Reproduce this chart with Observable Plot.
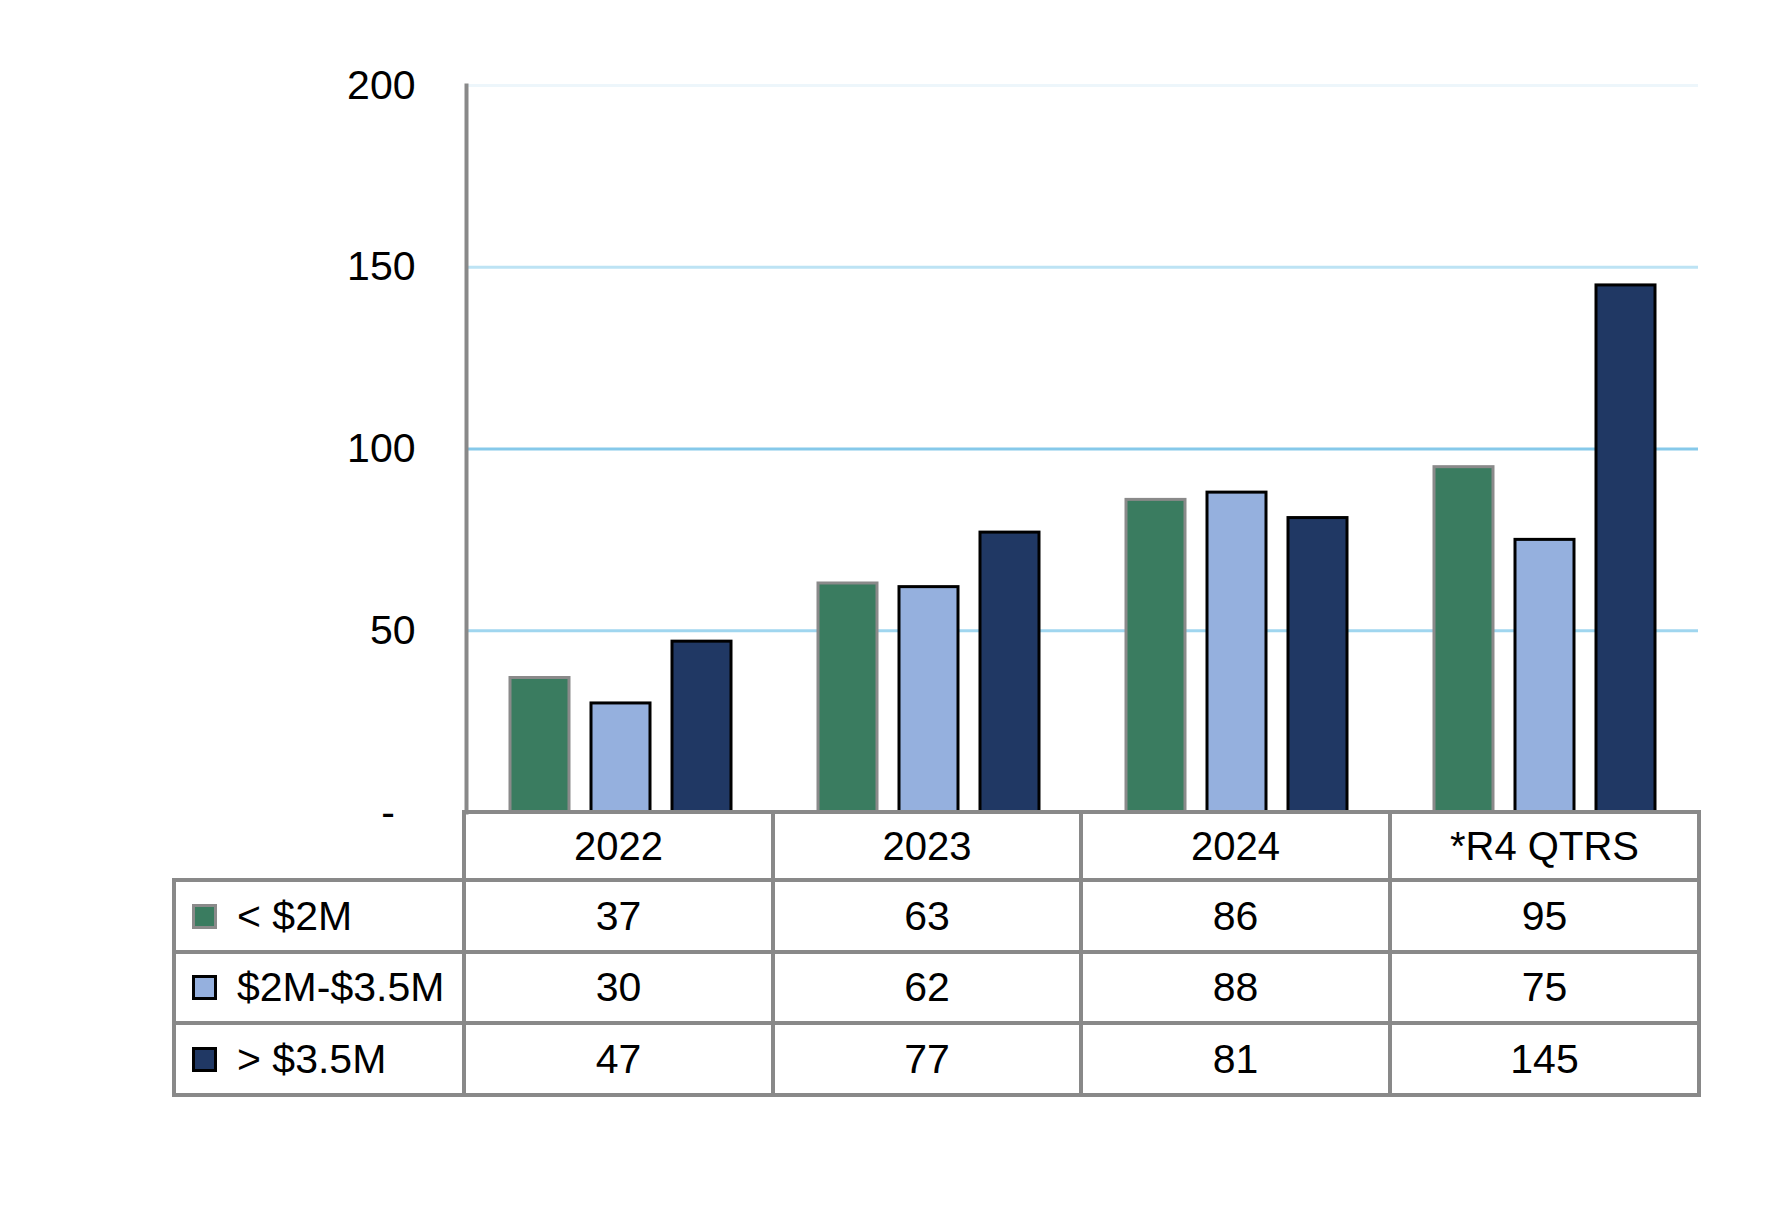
<!DOCTYPE html>
<html>
<head>
<meta charset="utf-8">
<script src="https://cdn.jsdelivr.net/npm/d3@7"></script>
<script src="https://cdn.jsdelivr.net/npm/@observablehq/plot@0.6"></script>
<style>
  html, body { margin: 0; padding: 0; background: #fff; }
  #wrap { position: relative; width: 1787px; height: 1209px; font-family: "Liberation Sans", Arial, sans-serif; color: #000; }
  #wrap svg { position: absolute; left: 0; top: 0; }
  .cell { position: absolute; box-sizing: border-box; border: 4px solid #898989; display: flex; align-items: center; justify-content: center; font-size: 41px; line-height: 1; }
  .head { font-size: 40px; }
  .legend { justify-content: flex-start; padding-left: 16px; }
  .sw { width: 25px; height: 25px; box-sizing: border-box; border: 3px solid #000; margin-right: 20px; flex: none; }
</style>
</head>
<body>
<div id="wrap"></div>
<script>
// ---- data ----
const categories = ["2022", "2023", "2024", "*R4 QTRS"];
const seriesNames = ["< $2M", "$2M-$3.5M", "> $3.5M"];
const valuesUnder2M = [37, 63, 86, 95];
const values2to35M = [30, 62, 88, 75];
const valuesOver35M = [47, 77, 81, 145];
const yTicks = [0, 50, 100, 150, 200];

// ---- styles ----
const fillOf = {"< $2M": "#3a7c60", "$2M-$3.5M": "#95b0de", "> $3.5M": "#203864"};
const strokeOf = {"< $2M": "#8a8a8a", "$2M-$3.5M": "#000000", "> $3.5M": "#000000"};
const gridColor = {50: "#a0d6ef", 100: "#86c9ea", 150: "#bde3f4", 200: "#edf6fb"};

(function () {
const seriesValues = [valuesUnder2M, values2to35M, valuesOver35M];
const data = seriesNames.flatMap((s, i) =>
  categories.map((c, j) => ({series: s, category: c, value: seriesValues[i][j]})));

const W = 1787, plotLeft = 464, plotRight = 1699, plotTop = 85, plotBase = 812;

const chart = Plot.plot({
  width: W,
  height: 880,
  marginLeft: plotLeft,
  marginRight: W - plotRight,
  marginTop: plotTop,
  marginBottom: 880 - plotBase,
  style: {fontFamily: "'Liberation Sans', Arial, sans-serif", fontSize: "41px", color: "#000", background: "transparent", overflow: "visible"},
  fx: {domain: categories, padding: 0, axis: null},
  x: {domain: seriesNames, paddingInner: 0.276, paddingOuter: 0.533, axis: null},
  y: {domain: [0, 200], axis: null},
  marks: [
    Plot.ruleY(yTicks.filter(d => d > 0), {stroke: d => gridColor[d], strokeWidth: 3}),
    Plot.barY(data, {fx: "category", x: "series", y: "value",
      fill: d => fillOf[d.series], stroke: d => strokeOf[d.series], strokeWidth: 3}),
    Plot.axisY({ticks: yTicks, tickSize: 0, tickPadding: 51, fontSize: 41, label: null,
      tickFormat: d => d === 0 ? "-\u2002" : String(d)}),
    Plot.frame({anchor: "left", facetAnchor: "left", stroke: "#898989", strokeWidth: 4})
  ]
});

const wrap = document.getElementById("wrap");
wrap.appendChild(chart);

// ---- data table under the chart ----
const colX = [174, 464, 773, 1081, 1390, 1699];
const rowY = [812, 880, 952, 1023, 1095];
function cell(c, r, html, cls) {
  const d = document.createElement("div");
  d.className = "cell" + (cls ? " " + cls : "");
  d.style.left = (colX[c] - 2) + "px";
  d.style.top = (rowY[r] - 2) + "px";
  d.style.width = (colX[c + 1] - colX[c] + 4) + "px";
  d.style.height = (rowY[r + 1] - rowY[r] + 4) + "px";
  d.innerHTML = html;
  wrap.appendChild(d);
}
categories.forEach((c, j) => cell(j + 1, 0, c, "head"));
seriesNames.forEach((s, i) => {
  const esc = s.replace(/</g, "&lt;").replace(/>/g, "&gt;");
  cell(0, i + 1, `<span class="sw" style="background:${fillOf[s]};border-color:${strokeOf[s]}"></span><span>${esc}</span>`, "legend");
  seriesValues[i].forEach((v, j) => cell(j + 1, i + 1, String(v)));
});
})();
</script>
</body>
</html>
